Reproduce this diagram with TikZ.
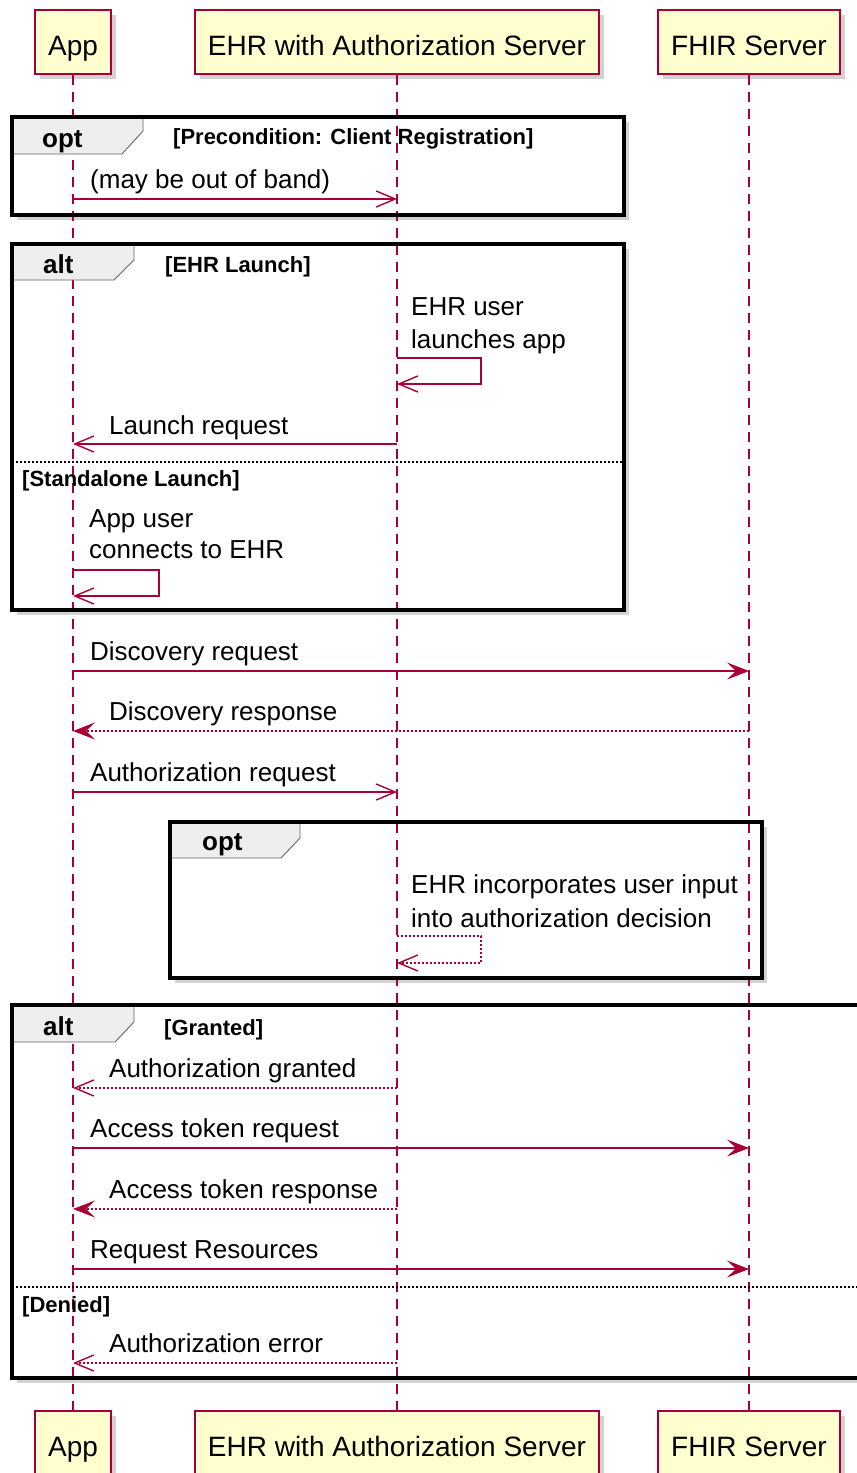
\documentclass[tikz,border=0pt]{standalone}
\usepackage{fontspec}
\setmainfont{Liberation Sans}
\usepackage{tikz}
\usetikzlibrary{arrows.meta,shadows}

\definecolor{umlred}{HTML}{A80036}
\definecolor{umlfill}{HTML}{FEFECE}
\definecolor{tabfill}{HTML}{EEEEEE}

\tikzset{
  actor/.style={draw=umlred,line width=1.8pt,fill=umlfill,minimum height=64pt,
    inner xsep=13pt,text height=26pt,text depth=0pt,font=\fontsize{28}{34}\selectfont,
    drop shadow={shadow xshift=5pt,shadow yshift=-5pt,opacity=0.35}},
  lifeline/.style={umlred,line width=1.3pt,dash pattern=on 10pt off 7pt},
  framebg/.style={fill=white,drop shadow={shadow xshift=5pt,shadow yshift=-5pt,opacity=0.35}},
  frame/.style={draw=black,line width=3.2pt},
  tab/.style={draw=black!60,line width=0.9pt,fill=tabfill},
  separator/.style={black,line width=1.5pt,dash pattern=on 2pt off 2pt},
  tabtext/.style={anchor=base west,inner sep=0pt,font=\bfseries\fontsize{26}{31}\selectfont},
  cond/.style={anchor=base west,inner sep=0pt,font=\bfseries\fontsize{22}{26}\selectfont},
  msgtext/.style={anchor=base west,inner sep=0pt,font=\fontsize{26}{31}\selectfont},
  sync/.style={umlred,line width=1.4pt,-{Stealth[length=22pt,width=17pt,inset=9pt]}},
  async/.style={umlred,line width=1.4pt,-{Straight Barb[length=19pt,width=16pt]}},
  ret/.style={sync,dash pattern=on 2pt off 2pt},
  asyncret/.style={async,dash pattern=on 2pt off 2pt}
}

\begin{document}
\begin{tikzpicture}[x=1pt,y=-1pt]
  \clip (0,0) rectangle (857,1473);
  \fill[white] (0,0) rectangle (857,1473);

  \path[framebg] (12,117) rectangle (624,215);
  \path[framebg] (12,244) rectangle (624,610);
  \path[framebg] (170,822) rectangle (762,978);
  \path[framebg] (12,1005) rectangle (880,1378);

  \node[actor] (appTop) at (73,42) {App};
  \node[actor] (ehrTop) at (397,42) {EHR with Authorization Server};
  \node[actor] (fhirTop) at (749,42) {FHIR Server};
  \node[actor] (appBot) at (73,1443) {App};
  \node[actor] (ehrBot) at (397,1443) {EHR with Authorization Server};
  \node[actor] (fhirBot) at (749,1443) {FHIR Server};

  \draw[lifeline] (appTop) -- (appBot);
  \draw[lifeline] (ehrTop) -- (ehrBot);
  \draw[lifeline] (fhirTop) -- (fhirBot);

  \draw[tab] (12,117) -- (143,117) -- (143,131) -- (122,154) -- (12,154) -- cycle;
  \draw[tab] (12,244) -- (134,244) -- (134,260) -- (114,280) -- (12,280) -- cycle;
  \draw[tab] (170,822) -- (300,822) -- (300,838) -- (281,858) -- (170,858) -- cycle;
  \draw[tab] (12,1005) -- (134,1005) -- (134,1022) -- (115,1042) -- (12,1042) -- cycle;

  \draw[frame] (12,117) rectangle (624,215);
  \draw[frame] (12,244) rectangle (624,610);
  \draw[frame] (170,822) rectangle (762,978);
  \draw[frame] (12,1005) rectangle (880,1378);

  \draw[separator] (12,462) -- (624,462);
  \draw[separator] (12,1287) -- (880,1287);

  \node[tabtext] (optReg) at (42,147) {opt};
  \node[cond] (condReg) at (173,144) {[Precondition: Client Registration]};
  \node[tabtext] (altLaunch) at (43,273) {alt};
  \node[cond] (condEhr) at (165,272) {[EHR Launch]};
  \node[cond] (condStandalone) at (22,486) {[Standalone Launch]};
  \node[tabtext] (optInput) at (202,850) {opt};
  \node[tabtext] (altAuth) at (43,1035) {alt};
  \node[cond] (condGranted) at (164,1035) {[Granted]};
  \node[cond] (condDenied) at (22,1312) {[Denied]};

  \node[msgtext] (lblBand) at (90,188) {(may be out of band)};
  \draw[async] (appTop |- 0,199) -- (ehrTop |- 0,199);

  \node[msgtext] (lblEhrUser) at (411,315) {EHR user};
  \node[msgtext] (lblLaunches) at (411,348) {launches app};
  \draw[async] (ehrTop |- 0,358) -- ++(84,0) -- ++(0,26) -- (ehrTop |- 0,384);

  \node[msgtext] (lblLaunchReq) at (109,434) {Launch request};
  \draw[async] (ehrTop |- 0,444) -- (appTop |- 0,444);

  \node[msgtext] (lblAppUser) at (89,527) {App user};
  \node[msgtext] (lblConnects) at (89,558) {connects to EHR};
  \draw[async] (appTop |- 0,570) -- ++(86,0) -- ++(0,26) -- (appTop |- 0,596);

  \node[msgtext] (lblDiscReq) at (90,660) {Discovery request};
  \draw[sync] (appTop |- 0,671) -- (fhirTop |- 0,671);

  \node[msgtext] (lblDiscResp) at (109,720) {Discovery response};
  \draw[ret] (fhirTop |- 0,731) -- (appTop |- 0,731);

  \node[msgtext] (lblAuthReq) at (90,781) {Authorization request};
  \draw[async] (appTop |- 0,792) -- (ehrTop |- 0,792);

  \node[msgtext] (lblIncorp) at (411,893) {EHR incorporates user input};
  \node[msgtext] (lblDecision) at (411,927) {into authorization decision};
  \draw[asyncret] (ehrTop |- 0,936) -- ++(84,0) -- ++(0,27) -- (ehrTop |- 0,963);

  \node[msgtext] (lblGranted) at (109,1077) {Authorization granted};
  \draw[asyncret] (ehrTop |- 0,1088) -- (appTop |- 0,1088);

  \node[msgtext] (lblTokenReq) at (90,1137) {Access token request};
  \draw[sync] (appTop |- 0,1148) -- (fhirTop |- 0,1148);

  \node[msgtext] (lblTokenResp) at (109,1198) {Access token response};
  \draw[ret] (ehrTop |- 0,1209) -- (appTop |- 0,1209);

  \node[msgtext] (lblResources) at (90,1258) {Request Resources};
  \draw[sync] (appTop |- 0,1269) -- (fhirTop |- 0,1269);

  \node[msgtext] (lblError) at (109,1352) {Authorization error};
  \draw[asyncret] (ehrTop |- 0,1363) -- (appTop |- 0,1363);
\end{tikzpicture}
\end{document}
